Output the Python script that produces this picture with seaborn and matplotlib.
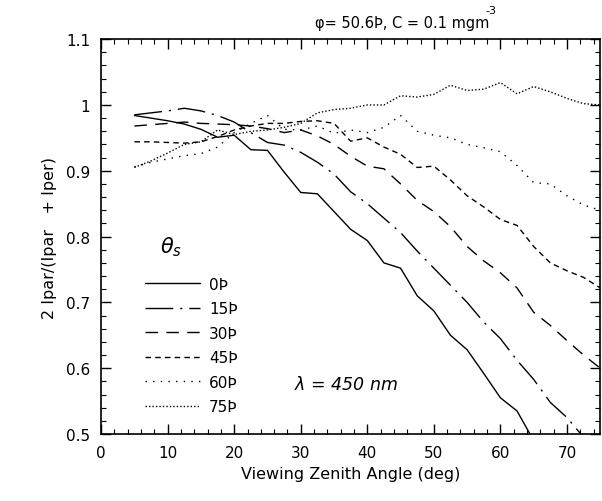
import numpy as np
import pandas as pd
import matplotlib
matplotlib.use("Agg")
import matplotlib.pyplot as plt
from matplotlib.ticker import MultipleLocator, FormatStrFormatter
import seaborn as sns

sns.set_style("ticks")
plt.rcParams['font.family'] = ['DejaVu Sans']
plt.rcParams['text.color'] = 'black'
plt.rcParams['axes.labelcolor'] = 'black'
plt.rcParams['xtick.color'] = 'black'
plt.rcParams['ytick.color'] = 'black'

# viewing zenith angle (deg)
vza = [5, 7.5, 10, 12.5, 15, 17.5, 20, 22.5, 25, 27.5, 30, 32.5, 35, 37.5, 40,
       42.5, 45, 47.5, 50, 52.5, 55, 57.5, 60, 62.5, 65, 67.5, 70, 72.5, 75]

sza_labels = ['0Þ', '15Þ', '30Þ', '45Þ', '60Þ', '75Þ']

r_0 = [0.984, 0.980, 0.976, 0.971, 0.963, 0.951, 0.954, 0.932, 0.931, 0.898,
       0.867, 0.865, 0.838, 0.811, 0.794, 0.760, 0.752, 0.710, 0.687, 0.650,
       0.628, 0.592, 0.555, 0.535, 0.490, 0.465, 0.440, 0.410, 0.390]
r_15 = [0.985, 0.988, 0.991, 0.995, 0.991, 0.984, 0.974, 0.958, 0.943, 0.939,
        0.928, 0.913, 0.895, 0.868, 0.850, 0.828, 0.806, 0.778, 0.752, 0.726,
        0.700, 0.670, 0.645, 0.612, 0.583, 0.548, 0.525, 0.495, 0.475]
r_30 = [0.968, 0.970, 0.972, 0.974, 0.972, 0.971, 0.970, 0.968, 0.964, 0.958,
        0.962, 0.953, 0.940, 0.922, 0.907, 0.903, 0.880, 0.855, 0.838, 0.815,
        0.785, 0.763, 0.745, 0.722, 0.685, 0.665, 0.642, 0.620, 0.600]
r_45 = [0.944, 0.944, 0.943, 0.942, 0.944, 0.952, 0.962, 0.968, 0.972, 0.972,
        0.975, 0.976, 0.972, 0.945, 0.950, 0.936, 0.925, 0.905, 0.907, 0.886,
        0.862, 0.845, 0.826, 0.817, 0.785, 0.760, 0.748, 0.738, 0.722]
r_60 = [0.906, 0.913, 0.918, 0.923, 0.926, 0.936, 0.958, 0.972, 0.984, 0.963,
        0.962, 0.968, 0.957, 0.962, 0.958, 0.966, 0.984, 0.960, 0.954, 0.950,
        0.940, 0.935, 0.929, 0.908, 0.882, 0.880, 0.862, 0.848, 0.840]
r_75 = [0.905, 0.915, 0.927, 0.940, 0.944, 0.962, 0.955, 0.960, 0.962, 0.966,
        0.972, 0.988, 0.993, 0.995, 1.000, 1.000, 1.014, 1.012, 1.016, 1.030,
        1.022, 1.024, 1.034, 1.017, 1.028, 1.020, 1.010, 1.002, 1.000]

series = [r_0, r_15, r_30, r_45, r_60, r_75]
df = pd.concat([pd.DataFrame({'vza': vza, 'ratio': s, 'sza': lab})
                for s, lab in zip(series, sza_labels)], ignore_index=True)

dash_map = {
    '0Þ': '',
    '15Þ': (20, 5, 1.5, 5),
    '30Þ': (9, 6),
    '45Þ': (4, 3),
    '60Þ': (1, 4.5),
    '75Þ': (1, 1.5),
}

fig = plt.figure(figsize=(6.02, 5.02), dpi=100)
ax = fig.add_axes([0.168, 0.1335, 0.829, 0.7865])

sns.lineplot(data=df, x='vza', y='ratio', style='sza', style_order=sza_labels,
             dashes=dash_map, color='black', linewidth=1.0, ax=ax, sort=True)

ax.set_xlim(0, 75)
ax.set_ylim(0.5, 1.1)
ax.xaxis.set_major_locator(MultipleLocator(10))
ax.xaxis.set_minor_locator(MultipleLocator(2))
ax.yaxis.set_major_locator(MultipleLocator(0.1))
ax.yaxis.set_minor_locator(MultipleLocator(0.02))
ax.yaxis.set_major_formatter(FormatStrFormatter('%g'))
ax.tick_params(which='both', direction='in', top=True, right=True, color='black')
ax.tick_params(which='major', length=7, width=1, labelsize=11, pad=8)
ax.tick_params(which='minor', length=3.5, width=0.8)
for sp in ax.spines.values():
    sp.set_color('black')
    sp.set_linewidth(1.2)

ax.set_xlabel('Viewing Zenith Angle (deg)', fontsize=11.5, labelpad=4)
ax.set_ylabel('2 Ipar/(Ipar   + Iper)', fontsize=11.5, labelpad=6)

# title with superscript placed off to the right
ax.text(0.428, 1.022, 'φ= 50.6Þ, C = 0.1 mgm', transform=ax.transAxes,
        ha='left', va='bottom', fontsize=10.5)
ax.text(0.77, 1.06, '-3', transform=ax.transAxes, ha='left', va='bottom',
        fontsize=8)

ax.text(29.0, 0.576, r'$\lambda$ = 450 nm', fontsize=12.5, style='italic',
        ha='left', va='center')

# legend title drawn separately (large gap above entries in the reference)
ax.text(8.8, 0.786, r'$\theta_s$', fontsize=15, ha='left', va='center')

handles, labels = ax.get_legend_handles_labels()
ax.legend(handles, labels, loc='upper left',
          bbox_to_anchor=(0.06, 0.433), frameon=False, fontsize=11,
          handlelength=3.6, handletextpad=0.6, labelspacing=0.62)

fig.savefig('out.png', dpi=100)
